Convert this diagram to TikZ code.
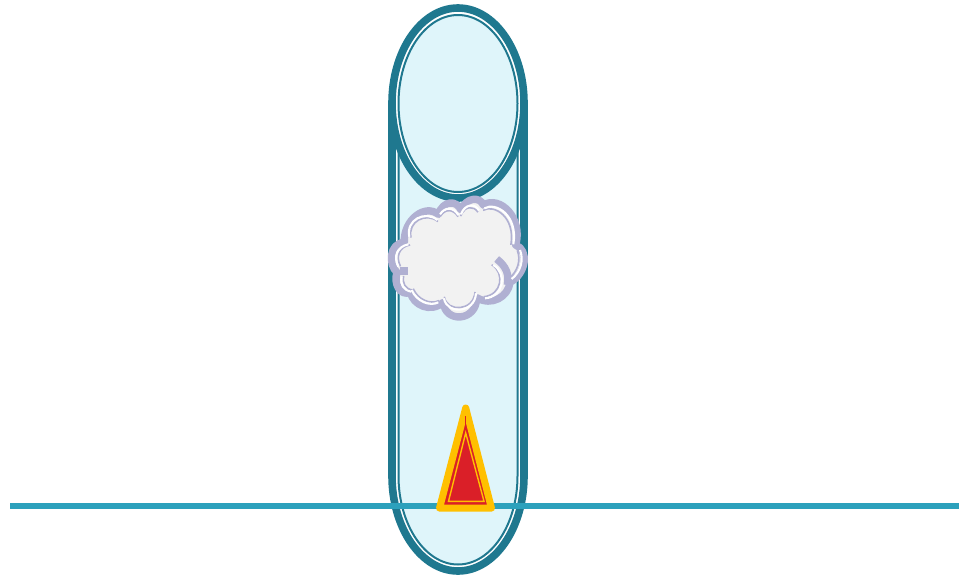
\documentclass[tikz,border=0pt]{standalone}
\definecolor{teal1}{HTML}{1F788F}
\definecolor{pale}{HTML}{DFF5FA}
\definecolor{lav}{HTML}{B0B0D2}
\definecolor{cloudfill}{HTML}{F2F2F2}
\definecolor{linecol}{HTML}{2CA1BC}
\definecolor{amber}{HTML}{FFC000}
\definecolor{redfill}{HTML}{DA1F28}
\tikzset{
  thickrim/.style={draw=teal1,line width=7.6pt,fill=white},
  thinrim/.style={draw=teal1,line width=2pt,fill=pale},
  cloudarc/.style={line cap=butt,line join=round},
}
\newcommand{\bodypath}[2]{(458-#1,103) -- (458-#1,476) arc[x radius=#1pt,y radius=#2pt,start angle=180,end angle=360] -- (458+#1,103)}
\newcommand{\cloudarcs}{
  (103,155) .. controls (92,105) and (150,75) .. (187,105)
  (195,88) .. controls (210,65) and (235,65) .. (250,90)
  (258,88) .. controls (270,55) and (300,55) .. (312,76)
  (328,70) .. controls (362,50) and (430,90) .. (415,178)
  (435,195) .. controls (447,225) and (437,260) .. (410,282)
  (355,240) .. controls (397,265) and (387,335) .. (330,340)
  (303,325) .. controls (300,385) and (215,390) .. (207,340)
  (190,352) .. controls (165,365) and (125,350) .. (110,315)
  (80,275) .. controls (75,298) and (85,315) .. (108,320)
  (70,245) .. controls (55,215) and (65,185) .. (100,178)
}
\begin{document}
\begin{tikzpicture}[x=1pt,y=-1pt]
\useasboundingbox (0,0) rectangle (959,576);
% capsule
\draw[thickrim] \bodypath{66}{95};
\draw[thinrim] \bodypath{59.5}{88.5};
\draw[thickrim] (458,103) ellipse [x radius=66pt,y radius=95pt];
\draw[thinrim] (458,103.5) ellipse [x radius=59.5pt,y radius=88.5pt];
% ground line
\draw[linecol,line width=6pt] (10,506.3) -- (959,506.3);
% cone
\draw[draw=amber,fill=redfill,line width=7pt,line join=round] (465.7,408) -- (491.5,508.2) -- (439.5,508.2) -- cycle;
\draw[redfill,line width=1.5pt] (465.7,416) -- (465.7,425);
\draw[amber,line width=1.4pt,line join=miter] (465.7,433) -- (484,501.3) -- (448.5,501.3) -- cycle;
% cloud
\begin{scope}[shift={(375,185)},x=0.33333pt,y=-0.33333pt]
  \draw[lav,fill=cloudfill,line width=7.4pt,line join=round]
    (88,172) .. controls (85,105) and (150,55) .. (190,88)
    .. controls (205,45) and (245,45) .. (258,75)
    .. controls (275,35) and (315,35) .. (325,60)
    .. controls (375,30) and (445,100) .. (422,180)
    .. controls (462,195) and (455,265) .. (405,292)
    .. controls (400,335) and (350,365) .. (305,338)
    .. controls (305,410) and (210,415) .. (205,352)
    .. controls (165,385) and (115,360) .. (106,322)
    .. controls (75,335) and (55,295) .. (66,262)
    .. controls (40,240) and (42,175) .. (88,172) -- cycle;
  \draw[lav,line width=7.4pt] (365,222) .. controls (395,245) and (403,270) .. (397,300);
  \draw[lav,line width=7.4pt] (75,258) -- (98,258);
  \begin{scope}[shift={(230,220)},scale=0.96,shift={(-230,-220)}]
    \draw[lav,line width=1.6pt,cloudarc] \cloudarcs;
  \end{scope}
  \draw[white,line width=2.1pt,cloudarc] \cloudarcs;
\end{scope}
\end{tikzpicture}
\end{document}
